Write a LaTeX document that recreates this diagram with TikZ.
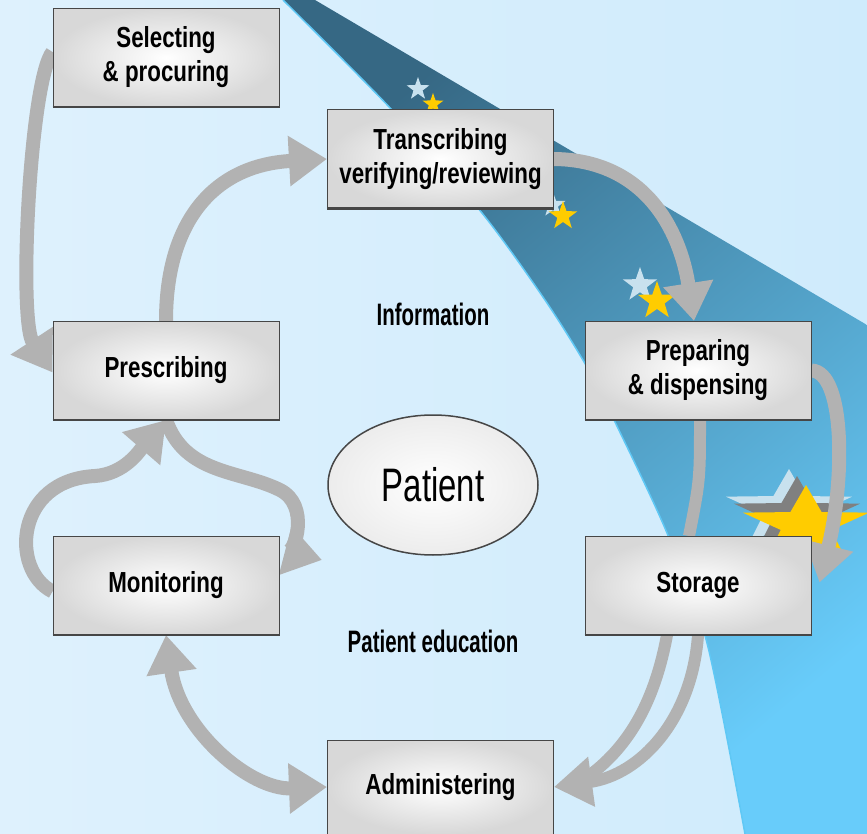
\documentclass[tikz,border=0pt]{standalone}
\usepackage{fontspec}
\setmainfont{Liberation Sans}[FakeStretch=0.77]
\newfontfamily\narrowlbl{Liberation Sans}[FakeStretch=0.66]
\newfontfamily\narrowpat{Liberation Sans}[FakeStretch=0.7]
\usetikzlibrary{arrows.meta,shapes.geometric,calc}

\definecolor{bgL}{RGB}{222,241,253}
\definecolor{bgR}{RGB}{207,235,252}
\definecolor{bandT}{RGB}{54,104,132}
\definecolor{bandM}{RGB}{88,176,226}
\definecolor{bandB}{RGB}{104,204,250}
\definecolor{edgeC}{RGB}{95,200,245}
\definecolor{arrowC}{RGB}{178,178,178}
\definecolor{boxEdge}{RGB}{70,70,70}
\definecolor{boxOut}{RGB}{216,216,216}
\definecolor{ellOut}{RGB}{236,236,236}
\definecolor{starY}{RGB}{255,204,0}
\definecolor{starP}{RGB}{200,225,238}
\definecolor{starG}{RGB}{128,128,128}

\newcommand\starshape[5]{% cx cy r xscale colour
  \fill[#5] plot[samples at={0,...,9}, variable=\k]
    ({#1 + #4*#3*(1-0.6*mod(\k,2))*cos(-90+36*\k)},
     {#2 + #3*(1-0.6*mod(\k,2))*sin(-90+36*\k)}) -- cycle;}

\pgfdeclarelayer{bglayer}
\pgfdeclarelayer{arrowlayer}
\pgfsetlayers{bglayer,arrowlayer,main}

\tikzset{
  procbox/.style={rectangle, draw=boxEdge, line width=1pt,
    minimum width=226pt, minimum height=98pt,
    inner color=white, outer color=boxOut, align=center,
    font=\fontsize{29}{34}\selectfont\bfseries, text=black},
  lbl/.style={font=\narrowlbl\fontsize{31}{34}\selectfont\bfseries, text=black},
  flow/.style={draw=arrowC, line width=14pt, -{Triangle[width=48pt,length=38pt]}},
  twoway/.style={draw=arrowC, line width=14pt, {Triangle[width=48pt,length=38pt]}-{Triangle[width=48pt,length=38pt]}},
  plain/.style={draw=arrowC, line width=12pt},
  shadowline/.style={draw=boxEdge, line width=2.5pt},
}

\begin{document}
\begin{tikzpicture}[x=1pt, y=-1pt]
\useasboundingbox (0,0) rectangle (867,834);

\begin{pgfonlayer}{bglayer}
\clip (0,0) rectangle (867,834);
% background
\fill[left color=bgL, right color=bgR] (0,0) rectangle (867,834);
% band
\shade[top color=bandT, middle color=bandM, bottom color=bandB, shading angle=40]
  plot[smooth] coordinates {(283,0) (392,110) (482,213) (545,300) (587,367) (615,422) (667,533) (707,643) (745,834)}
  -- (867,834) -- (867,325) -- (315,0) -- cycle;
\draw[edgeC, line width=1.5pt]
  plot[smooth] coordinates {(283,0) (392,110) (482,213) (545,300) (587,367) (615,422) (667,533) (707,643) (745,834)};
% stars
\starshape{418}{89}{12}{1}{starP}
\starshape{433}{104}{11}{1}{starY}
\starshape{553}{205}{13}{1}{starP}
\starshape{563}{216}{15}{1}{starY}
\starshape{640}{285}{18}{1}{starP}
\starshape{657}{301}{20}{1}{starY}
\starshape{789}{509}{40}{1.66}{starP}
\starshape{797}{516}{40}{1.66}{starG}
\starshape{806}{525}{40}{1.66}{starY}
\end{pgfonlayer}

% nodes
\node[procbox] (sel)   at (166,57.5)  {Selecting\\\& procuring};
\node[procbox] (trans) at (440.5,159) {Transcribing\\verifying/reviewing};
\node[procbox] (presc) at (166,370.5) {Prescribing};
\node[procbox] (prep)  at (698,370.5) {Preparing\\\& dispensing};
\node[procbox] (mon)   at (166,585.5) {Monitoring};
\node[procbox] (stor)  at (698,585.5) {Storage};
\node[procbox, minimum height=94pt] (admin) at (440.5,787) {Administering};
\node[ellipse, draw=boxEdge, line width=1.5pt, minimum width=210pt, minimum height=140pt,
      inner color=white, outer color=ellOut, inner sep=0pt] (pat) at (433,485)
      {\narrowpat\fontsize{47}{50}\selectfont Patient};
\node[lbl] (info) at (433,314) {Information};
\node[lbl] (educ) at (433,641) {Patient education};
\foreach \n in {sel,trans,presc,prep,mon,stor}
  \draw[shadowline] (\n.south west) -- (\n.south east);

\coordinate (edu) at (322,560);
\coordinate (joinA) at (590,775);

\begin{pgfonlayer}{arrowlayer}
\draw[flow] ([yshift=5.5pt]sel.west) .. controls (30,80) and (18,320) .. ([yshift=-2pt]presc.west);
\draw[flow] (presc.north) .. controls (166,220) and (215,165) .. (trans.west);
\draw[flow] (trans.east) .. controls (645,160) and (680,230) .. ([xshift=-4pt]prep.north);
\draw[plain] ([xshift=2pt]prep.south) .. controls (700,480) .. ([xshift=-9pt]stor.north);
\draw[flow] (prep.east) .. controls (845,372) and (845,480) .. ([xshift=8pt,yshift=3pt]stor.east);
\draw[plain] ([xshift=-31pt]stor.south) .. controls (655,700) and (630,745) .. (joinA);
\draw[flow, line width=12pt] (stor.south) .. controls (692,720) and (640,775) .. (admin.east);
\draw[twoway] (mon.south) .. controls (180,730) and (250,790) .. (admin.west);
\draw[flow] ([yshift=-6pt]mon.west) .. controls (10,570) and (15,480) .. (95,476)
   .. controls (125,474) and (140,450) .. (presc.south);
\draw[flow] (presc.south) .. controls (185,475) and (240,470) .. (280,490)
   .. controls (310,505) and (295,553) .. (edu);
\end{pgfonlayer}
\end{tikzpicture}
\end{document}
